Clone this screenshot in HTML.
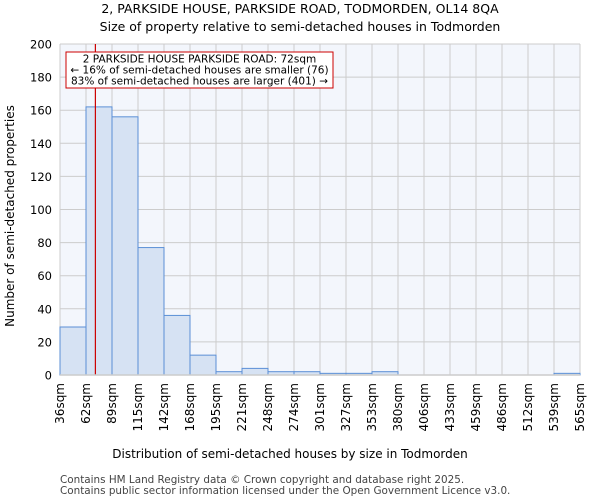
<!DOCTYPE html>
<html><head><meta charset="utf-8"><style>
body{margin:0;background:#fff;font-family:"DejaVu Sans","Liberation Sans",sans-serif;}
</style></head><body>
<svg width="600" height="500" xmlns="http://www.w3.org/2000/svg" font-family="DejaVu Sans, Liberation Sans, sans-serif">
<text x="300" y="13" text-anchor="middle" font-size="12.5">2, PARKSIDE HOUSE, PARKSIDE ROAD, TODMORDEN, OL14 8QA</text>
<text x="300" y="31" text-anchor="middle" font-size="12.5">Size of property relative to semi-detached houses in Todmorden</text>
<rect x="60" y="44" width="520" height="331" fill="#f3f6fc"/>
<g id="grid"></g>
<g id="bars"></g>
<line id="marker" stroke="#cc0000" stroke-width="1.2"/>
<g id="axes"></g>
<rect x="66" y="52" width="267" height="36" fill="#fff" stroke="#cc0000" stroke-width="1"/>
<text x="199.5" y="62.5" text-anchor="middle" font-size="10.5">2 PARKSIDE HOUSE PARKSIDE ROAD: 72sqm</text>
<text x="199.5" y="73.5" text-anchor="middle" font-size="10.5">← 16% of semi-detached houses are smaller (76)</text>
<text x="199.5" y="84.5" text-anchor="middle" font-size="10.5">83% of semi-detached houses are larger (401) →</text>
<text x="290" y="458" text-anchor="middle" font-size="12">Distribution of semi-detached houses by size in Todmorden</text>
<text transform="translate(14,216) rotate(-90)" text-anchor="middle" font-size="12">Number of semi-detached properties</text>
<text x="60" y="483" font-size="10.4" fill="#444">Contains HM Land Registry data © Crown copyright and database right 2025.</text>
<text x="60" y="494" font-size="10.4" fill="#444">Contains public sector information licensed under the Open Government Licence v3.0.</text>
</svg>
<script>
const tickLabels=["36sqm","62sqm","89sqm","115sqm","142sqm","168sqm","195sqm","221sqm","248sqm","274sqm","301sqm","327sqm","353sqm","380sqm","406sqm","433sqm","459sqm","486sqm","512sqm","539sqm","565sqm"];
const counts=[29,162,156,77,36,12,2,4,2,2,1,1,2,0,0,0,0,0,0,1];
const yTicks=[0,20,40,60,80,100,120,140,160,180,200];
const binStart=36, binEnd=565, markerValue=72;
const NS="http://www.w3.org/2000/svg";
const x0=60,x1=580,y0=375,y1=44;
const xs=i=>x0+i*(x1-x0)/counts.length;
const xv=v=>x0+(v-binStart)*(x1-x0)/(binEnd-binStart);
const ys=v=>y0-v*(y0-y1)/200;
function mk(t,a,p){const e=document.createElementNS(NS,t);for(const k in a)e.setAttribute(k,a[k]);p.appendChild(e);return e;}
const grid=document.getElementById('grid'),bars=document.getElementById('bars'),axes=document.getElementById('axes');
yTicks.forEach(v=>{const l=mk('line',{x1:x0,x2:x1,y1:ys(v),y2:ys(v),stroke:'#cccccc','stroke-width':1},grid);


const t=mk('text',{x:x0-8,y:ys(v)+4.5,'text-anchor':'end','font-size':11.5},axes);t.textContent=v;

});
tickLabels.forEach((s,i)=>{const l=mk('line',{x1:xs(i),x2:xs(i),y1:y1,y2:y0,stroke:'#cccccc','stroke-width':1},grid);


const t=mk('text',{transform:`translate(${xs(i)+4},${y0+8}) rotate(-90)`,'text-anchor':'end','font-size':12},axes);t.textContent=s;

});
counts.forEach((c,i)=>{if(c<=0)return;const r=mk('rect',{x:xs(i),y:ys(c),width:xs(i+1)-xs(i),height:y0-ys(c),fill:'#d6e2f3',stroke:'#5b8fd6','stroke-width':1},bars);

});
const m=document.getElementById('marker');m.setAttribute('x1',xv(markerValue));m.setAttribute('x2',xv(markerValue));m.setAttribute('y1',y1);m.setAttribute('y2',y0);
const ax=mk('line',{x1:x0,x2:x1,y1:y0,y2:y0,stroke:'#cccccc','stroke-width':1.5},axes);


</script>
</body></html>
